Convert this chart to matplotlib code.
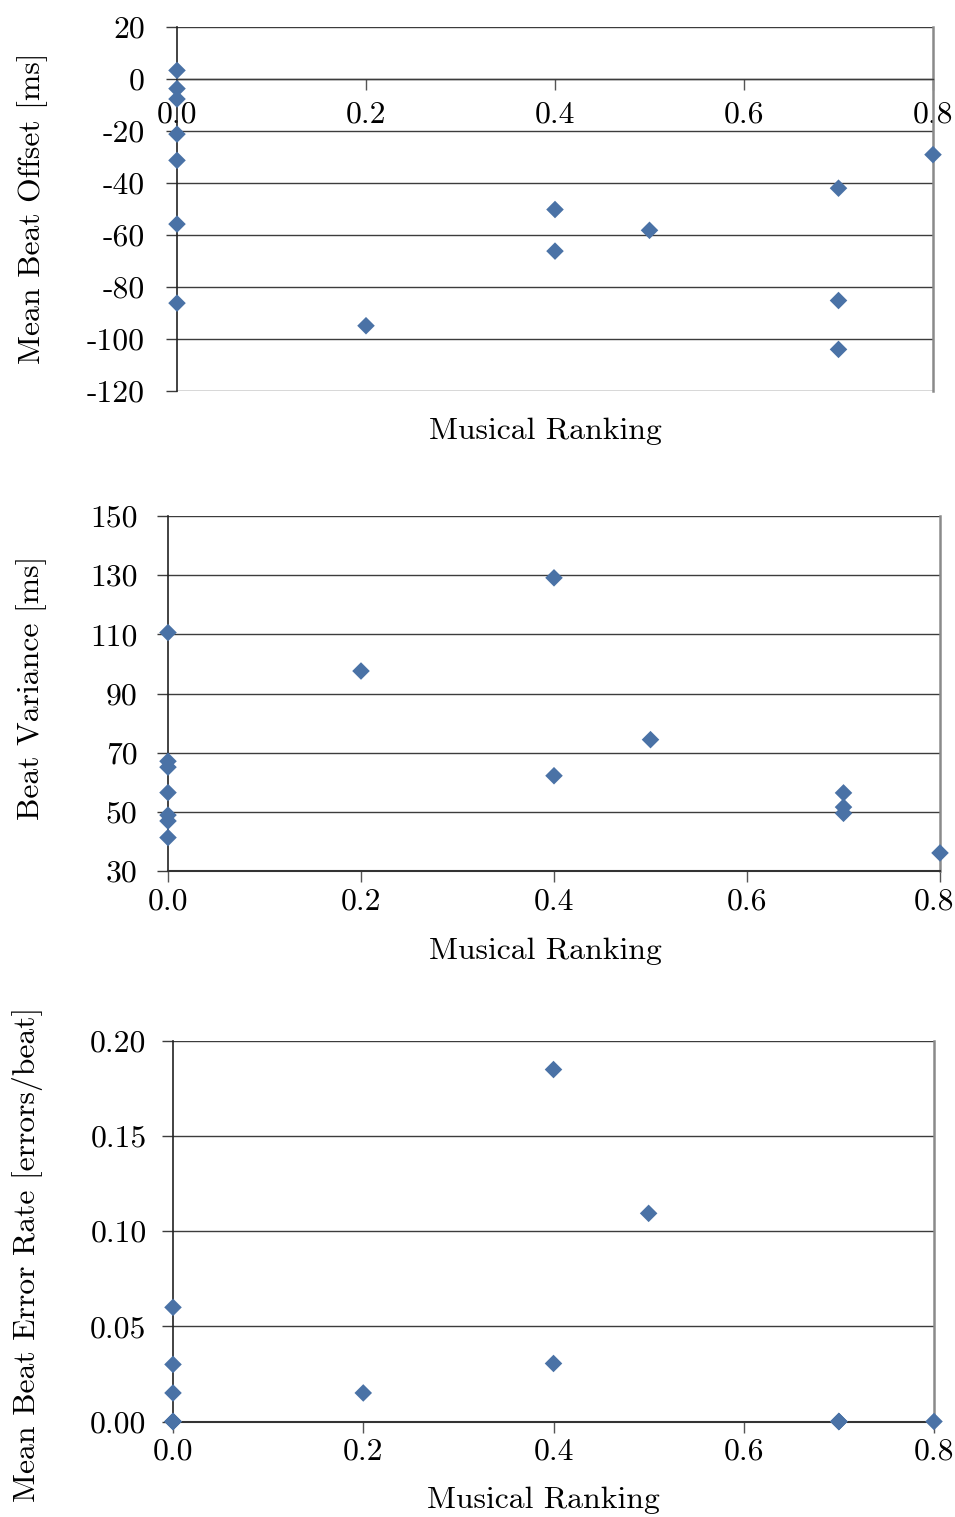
import matplotlib
matplotlib.use("Agg")
import matplotlib.pyplot as plt
import matplotlib.transforms as mtransforms
from matplotlib.ticker import FixedLocator, FormatStrFormatter

plt.rcParams["font.family"] = ["cmr10", "DejaVu Serif"]
plt.rcParams["mathtext.fontset"] = "cm"
plt.rcParams["axes.unicode_minus"] = False
plt.rcParams["axes.formatter.use_mathtext"] = True

# Musical ranking of each participant (shared x for all panels)
ranking = [0.0, 0.0, 0.0, 0.0, 0.0, 0.0, 0.0,
           0.2, 0.4, 0.4, 0.5, 0.7, 0.7, 0.7, 0.8]

# Mean beat offset [ms]
beat_offset = [3.3, -3.7, -7.7, -21.2, -31.3, -55.8, -86.2,
               -94.9, -50.2, -66.2, -58.2, -42.0, -85.2, -104.0, -29.1]

# Beat variance [ms]
ranking_var = [0.0, 0.0, 0.0, 0.0, 0.0, 0.0, 0.0,
               0.2, 0.4, 0.4, 0.5, 0.7, 0.7, 0.7, 0.8]
beat_variance = [110.6, 67.1, 65.1, 56.5, 48.9, 46.9, 41.3,
                 97.6, 129.1, 62.2, 74.4, 56.4, 51.6, 49.5, 36.1]

# Mean beat error rate [errors/beat]
error_rate = [0.06, 0.03, 0.015, 0.0, 0.0, 0.0, 0.0,
              0.015, 0.185, 0.0305, 0.1094, 0.0, 0.0, 0.0, 0.0]

x_ticks = [0.0, 0.2, 0.4, 0.6, 0.8]
offset_ticks = [20, 0, -20, -40, -60, -80, -100, -120]
variance_ticks = [150, 130, 110, 90, 70, 50, 30]
error_ticks = [0.00, 0.05, 0.10, 0.15, 0.20]

MARKER_COLOR = "#4a72a6"
GRID_COLOR = "#3c3c3c"
FS = 22.8

W, H = 955, 1517
fig = plt.figure(figsize=(W / 100, H / 100), dpi=100)


def make_axes(left, right, top, bottom):
    return fig.add_axes([left / W, 1 - bottom / H, (right - left) / W, (bottom - top) / H])


def style(ax, yticks, yfmt, ylo, yhi, ypad, xpad):
    ax.set_xlim(0, 0.8)
    ax.set_ylim(ylo, yhi)
    ax.xaxis.set_major_locator(FixedLocator(x_ticks))
    ax.xaxis.set_major_formatter(FormatStrFormatter("%.1f"))
    ax.yaxis.set_major_locator(FixedLocator(yticks))
    ax.yaxis.set_major_formatter(FormatStrFormatter(yfmt))
    ax.grid(axis="y", color=GRID_COLOR, linewidth=1.0)
    ax.set_axisbelow(True)
    ax.spines["top"].set_visible(False)
    ax.spines["right"].set_color("#8a8a8a")
    ax.spines["right"].set_linewidth(1.8)
    ax.spines["left"].set_color("#222222")
    ax.spines["left"].set_linewidth(1.2)
    ax.spines["bottom"].set_color("#333333")
    ax.spines["bottom"].set_linewidth(1.5)
    ax.tick_params(axis="y", direction="out", length=8, width=1.0,
                   color=GRID_COLOR, pad=ypad, labelsize=FS, left=True)
    ax.tick_params(axis="x", direction="out", length=8, width=1.0,
                   color="#555555", pad=xpad, labelsize=FS)


def scatter(ax, xs, ys):
    ax.scatter(xs, ys, marker="D", s=80, color=MARKER_COLOR,
               edgecolors="none", clip_on=False, zorder=3)


def nudge_last_xlabel(ax, dx_px):
    offset = mtransforms.ScaledTranslation(dx_px / 100, 0, fig.dpi_scale_trans)
    lbl = ax.get_xticklabels()[-1]
    lbl.set_transform(lbl.get_transform() + offset)


# Panel 1: mean beat offset
ax1 = make_axes(177, 933, 27, 391)
style(ax1, offset_ticks, "%d", -120, 20, 15, 8)
ax1.spines["bottom"].set_position(("data", 0))
ax1.spines["bottom"].set_linewidth(1.0)
ax1.spines["bottom"].set_color(GRID_COLOR)
scatter(ax1, ranking, beat_offset)
fig.text(33 / W, 1 - 208 / H, "Mean Beat Offset [ms]", rotation=90,
         ha="center", va="center", fontsize=FS)
fig.text(545 / W, 1 - 431 / H, "Musical Ranking", ha="center", va="center", fontsize=FS)

# Panel 2: beat variance
ax2 = make_axes(168, 940, 516, 871)
style(ax2, variance_ticks, "%d", 30, 150, 14, 4)
scatter(ax2, ranking_var, beat_variance)
fig.draw_without_rendering()
nudge_last_xlabel(ax2, -6)
fig.text(32 / W, 1 - 688 / H, "Beat Variance [ms]", rotation=90,
         ha="center", va="center", fontsize=FS)
fig.text(545 / W, 1 - 951 / H, "Musical Ranking", ha="center", va="center", fontsize=FS)

# Panel 3: mean beat error rate
ax3 = make_axes(173, 934, 1041, 1421.5)
style(ax3, error_ticks, "%.2f", 0.0, 0.20, 11, 4)
scatter(ax3, ranking, error_rate)
fig.text(28 / W, 1 - 1254 / H, "Mean Beat Error Rate [errors/beat]", rotation=90,
         ha="center", va="center", fontsize=FS)
fig.text(543 / W, 1 - 1500 / H, "Musical Ranking", ha="center", va="center", fontsize=FS)

fig.savefig("out.png", dpi=100, facecolor="white")
